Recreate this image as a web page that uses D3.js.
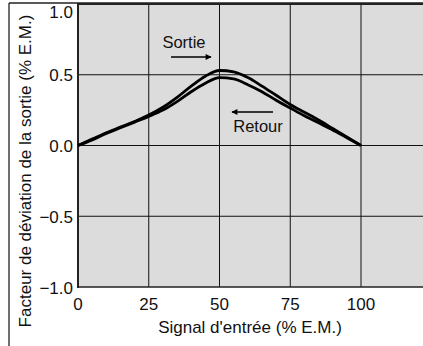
<!DOCTYPE html>
<html><head><meta charset="utf-8">
<script src="https://cdn.jsdelivr.net/npm/d3@7"></script>
<style>body{margin:0;background:#fff}svg{display:block}text{font-family:"Liberation Sans",Arial,sans-serif;fill:#111}</style>
</head><body><svg id="c" width="423" height="346"></svg>
<script>
const xValues = [0,5,10,15,20,25,30,35,40,45,50,55,60,65,70,75,80,85,90,95,100];
const sortieValues = [0,0.045,0.09,0.13,0.17,0.215,0.27,0.34,0.42,0.49,0.53,0.52,0.48,0.42,0.355,0.29,0.235,0.18,0.12,0.06,0];
const retourValues = [0,0.04,0.085,0.125,0.165,0.205,0.25,0.31,0.38,0.44,0.48,0.47,0.43,0.38,0.32,0.265,0.21,0.16,0.11,0.055,0];
const xTicks = [0,25,50,75,100];
const yTicks = [-1,-0.5,0,0.5,1];
const xTitle = "Signal d'entrée (% E.M.)";
const yTitle = "Facteur de déviation de la sortie (% E.M.)";

const svg = d3.select("#c");
const L=78, T=4, B=287;
const x = d3.scaleLinear().domain([0,100]).range([L,361]);
const y = d3.scaleLinear().domain([-1,1]).range([B,T]);
const R = 423;

// outer frame
svg.append("line").attr("x1",9).attr("x2",9).attr("y1",3).attr("y2",346).attr("stroke","#222").attr("stroke-width",1.3);
svg.append("line").attr("x1",9).attr("x2",R).attr("y1",3).attr("y2",3).attr("stroke","#222").attr("stroke-width",1.3);

// plot background
svg.append("rect").attr("x",L).attr("y",T).attr("width",R-L).attr("height",B-T).attr("fill","#dcdcdc");

// grid
const g = svg.append("g");
g.selectAll("line.v").data(xTicks.slice(1)).join("line")
 .attr("x1",d=>x(d)).attr("x2",d=>x(d)).attr("y1",T).attr("y2",B).attr("stroke","#111").attr("stroke-width",1);
g.selectAll("line.h").data(yTicks.slice(1,4)).join("line")
 .attr("x1",L).attr("x2",R).attr("y1",d=>y(d)).attr("y2",d=>y(d)).attr("stroke","#111").attr("stroke-width",1);

// borders
svg.append("line").attr("x1",L).attr("x2",L).attr("y1",T-1).attr("y2",B+1).attr("stroke","#222").attr("stroke-width",2);
svg.append("line").attr("x1",L).attr("x2",R).attr("y1",T).attr("y2",T).attr("stroke","#222").attr("stroke-width",2);
svg.append("line").attr("x1",L).attr("x2",R).attr("y1",B).attr("y2",B).attr("stroke","#222").attr("stroke-width",1.5);

// axes labels
svg.append("g").selectAll("text").data(yTicks).join("text")
 .attr("x",73).attr("y",d=>d===1? 18 : y(d)+6.5).attr("text-anchor","end").attr("font-size",17)
 .text(d=>d3.format(".1f")(d).replace("-","\u2212"));
svg.append("g").selectAll("text").data(xTicks).join("text")
 .attr("x",d=>x(d)).attr("y",310).attr("text-anchor","middle").attr("font-size",17).text(d=>d);
svg.append("text").attr("x",250).attr("y",333).attr("text-anchor","middle").attr("font-size",17).text(xTitle);
svg.append("text").attr("transform","translate(31,171) rotate(-90)").attr("text-anchor","middle").attr("font-size",17).text(yTitle);

// curves
const line = d3.line().x((d,i)=>x(xValues[i])).y(d=>y(d)).curve(d3.curveMonotoneX);
[sortieValues, retourValues].forEach(v=>{
  svg.append("path").attr("d",line(v)).attr("fill","none").attr("stroke","#000").attr("stroke-width",2.8).attr("stroke-linejoin","round");
});

// annotations
svg.append("defs").append("marker").attr("id","ah").attr("viewBox","0 0 10 10").attr("refX",9).attr("refY",5)
 .attr("markerWidth",12).attr("markerHeight",6).attr("markerUnits","userSpaceOnUse").attr("orient","auto")
 .append("path").attr("d","M0,0L10,5L0,10Z").attr("fill","#000");
svg.append("text").attr("x",184).attr("y",48).attr("text-anchor","middle").attr("font-size",16.5).text("Sortie");
svg.append("line").attr("x1",171).attr("x2",211).attr("y1",57).attr("y2",57).attr("stroke","#000").attr("stroke-width",1.5).attr("marker-end","url(#ah)");
svg.append("text").attr("x",258).attr("y",132).attr("text-anchor","middle").attr("font-size",16.5).text("Retour");
svg.append("line").attr("x1",273).attr("x2",232).attr("y1",112).attr("y2",112).attr("stroke","#000").attr("stroke-width",1.5).attr("marker-end","url(#ah)");
</script></body></html>
